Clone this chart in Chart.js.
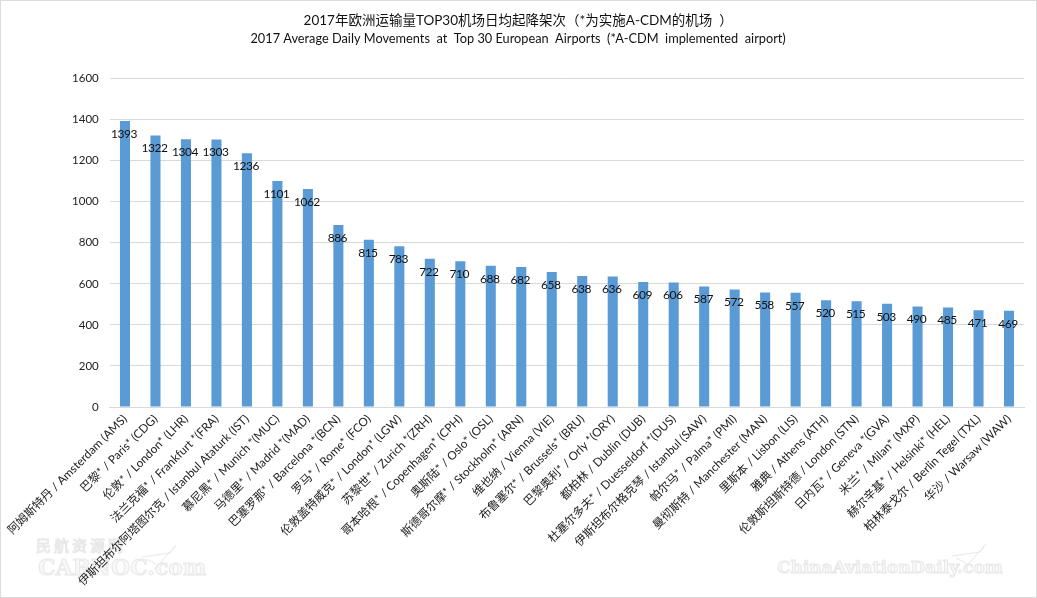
<!DOCTYPE html>
<html>
<head>
<meta charset="utf-8">
<style>
	html, body { margin: 0; padding: 0; background: #fff; }
	canvas { display: block; }
</style>
<script src="https://cdn.jsdelivr.net/npm/chart.js@4/dist/chart.umd.min.js"></script>
</head>
<body>
<canvas id="graficoAeroportos" width="1037" height="598"></canvas>
<script>
var aeroportos = [
	'阿姆斯特丹 / Amsterdam (AMS)', '巴黎* / Paris* (CDG)', '伦敦* / London* (LHR)',
	'法兰克福* / Frankfurt *(FRA)', '伊斯坦布尔阿塔图尔克 / Istanbul Ataturk (IST)', '慕尼黑* / Munich *(MUC)',
	'马德里* / Madrid *(MAD)', '巴塞罗那* / Barcelona *(BCN)', '罗马* / Rome* (FCO)',
	'伦敦盖特威克* / London* (LGW)', '苏黎世* / Zurich *(ZRH)', '哥本哈根* / Copenhagen* (CPH)',
	'奥斯陆* / Oslo* (OSL)', '斯德哥尔摩* / Stockholm* (ARN)', '维也纳 / Vienna (VIE)',
	'布鲁塞尔* / Brussels* (BRU)', '巴黎奥利* / Orly *(ORY)', '都柏林 / Dublin (DUB)',
	'杜塞尔多夫* / Duesseldorf *(DUS)', '伊斯坦布尔格克琴 / Istanbul (SAW)', '帕尔马* / Palma* (PMI)',
	'曼彻斯特 / Manchester (MAN)', '里斯本 / Lisbon (LIS)', '雅典 / Athens (ATH)',
	'伦敦斯坦斯特德 / London (STN)', '日内瓦* / Geneva *(GVA)', '米兰* / Milan* (MXP)',
	'赫尔辛基* / Helsinki* (HEL)', '柏林泰戈尔 / Berlin Tegel (TXL)', '华沙 / Warsaw (WAW)'
];
var movimentos = [1393, 1322, 1304, 1303, 1236, 1101, 1062, 886, 815, 783, 722, 710, 688, 682, 658,
	638, 636, 609, 606, 587, 572, 558, 557, 520, 515, 503, 490, 485, 471, 469];
var tituloChines = '2017年欧洲运输量TOP30机场日均起降架次（*为实施A-CDM的机场  ）';
var tituloIngles = '2017 Average Daily Movements  at  Top 30 European  Airports  (*A-CDM  implemented  airport)';
var marcas = ['民航资源网', 'CARNOC.com', 'ChinaAviationDaily.com'];

var fonte = 'Lato, "Noto Sans CJK SC", sans-serif';

function aviao(ctx, x, y) {
	ctx.beginPath();
	ctx.moveTo(x, y + 12);
	ctx.lineTo(x + 28, y + 8);
	ctx.lineTo(x + 34, y);
	ctx.lineTo(x + 12, y + 25);
	ctx.moveTo(x + 4, y + 14);
	ctx.lineTo(x + 14, y + 19);
	ctx.stroke();
}

// fundo, moldura cinza e marcas d'agua ficam por baixo de tudo
var fundo = {
	id: 'fundo',
	beforeDraw: function(chart) {
		var ctx = chart.ctx;
		ctx.save();
		ctx.fillStyle = '#fff';
		ctx.fillRect(0, 0, chart.width, chart.height);
		ctx.strokeStyle = '#dcdcdc';
		ctx.lineWidth = 2;
		ctx.strokeRect(0, 0, chart.width, chart.height);

		ctx.textAlign = 'left';
		ctx.textBaseline = 'middle';
		ctx.fillStyle = '#f8f8f8';
		ctx.strokeStyle = '#e8e8e8';
		ctx.lineWidth = 1;
		ctx.font = '15px "Noto Sans CJK SC"';
		ctx.letterSpacing = '3px';
		ctx.strokeText(marcas[0], 36, 545);
		ctx.font = 'bold 22px "DejaVu Serif"';
		ctx.letterSpacing = '0px';
		ctx.fillText(marcas[1], 38, 569);
		ctx.strokeText(marcas[1], 38, 569);
		ctx.font = 'bold 17px "DejaVu Serif"';
		ctx.fillText(marcas[2], 777, 569);
		ctx.strokeText(marcas[2], 777, 569);
		aviao(ctx, 142, 545);
		aviao(ctx, 952, 544);
		ctx.restore();
	}
};

// valores dentro da barra, perto do topo
var rotulos = {
	id: 'rotulos',
	afterDatasetsDraw: function(chart) {
		var ctx = chart.ctx;
		ctx.save();
		ctx.font = '12px ' + fonte;
		ctx.letterSpacing = '-0.5px';
		ctx.fillStyle = '#111';
		ctx.textAlign = 'center';
		ctx.textBaseline = 'middle';
		chart.getDatasetMeta(0).data.forEach(function(barra, i) {
			ctx.fillText(movimentos[i], barra.x - 1, barra.y + 13);
		});
		ctx.restore();
	}
};

new Chart(document.getElementById('graficoAeroportos').getContext('2d'), {
	type: 'bar',
	plugins: [fundo, rotulos],
	data: {
		labels: aeroportos,
		datasets: [{
			data: movimentos,
			backgroundColor: '#5b9bd5',
			barPercentage: 0.33,
			categoryPercentage: 1
		}]
	},
	options: {
		responsive: false,
		animation: false,
		layout: { padding: { left: 12, right: 12.75, top: 0, bottom: 0 } },
		plugins: {
			legend: { display: false },
			tooltip: { enabled: false },
			title: {
				display: true,
				text: tituloChines,
				color: '#111',
				font: { family: fonte, size: 13.5, weight: 'normal', lineHeight: 1.3 },
				padding: { top: 12, bottom: 0 }
			},
			subtitle: {
				display: true,
				text: tituloIngles,
				color: '#111',
				font: { family: fonte, size: 12.75, weight: 'normal', lineHeight: 1.3 },
				padding: { top: 1, bottom: 31.4 }
			}
		},
		scales: {
			x: {
				afterFit: function(escala) { escala.height = 191; },
				grid: { display: false, drawTicks: false },
				border: { color: '#d9d9d9' },
				ticks: {
					autoSkip: false,
					minRotation: 45,
					maxRotation: 45,
					padding: 5,
					color: '#222',
					font: { family: fonte, size: 11.7 }
				}
			},
			y: {
				min: 0,
				max: 1600,
				afterFit: function(escala) { escala.width = 97.75; },
				grid: { color: '#d9d9d9', drawTicks: false },
				border: { display: false },
				ticks: {
					stepSize: 200,
					padding: 11,
					color: '#222',
					font: { family: fonte, size: 11.5 },
					callback: function(valor) { return String(valor); }
				}
			}
		}
	}
});
</script>
</body>
</html>
